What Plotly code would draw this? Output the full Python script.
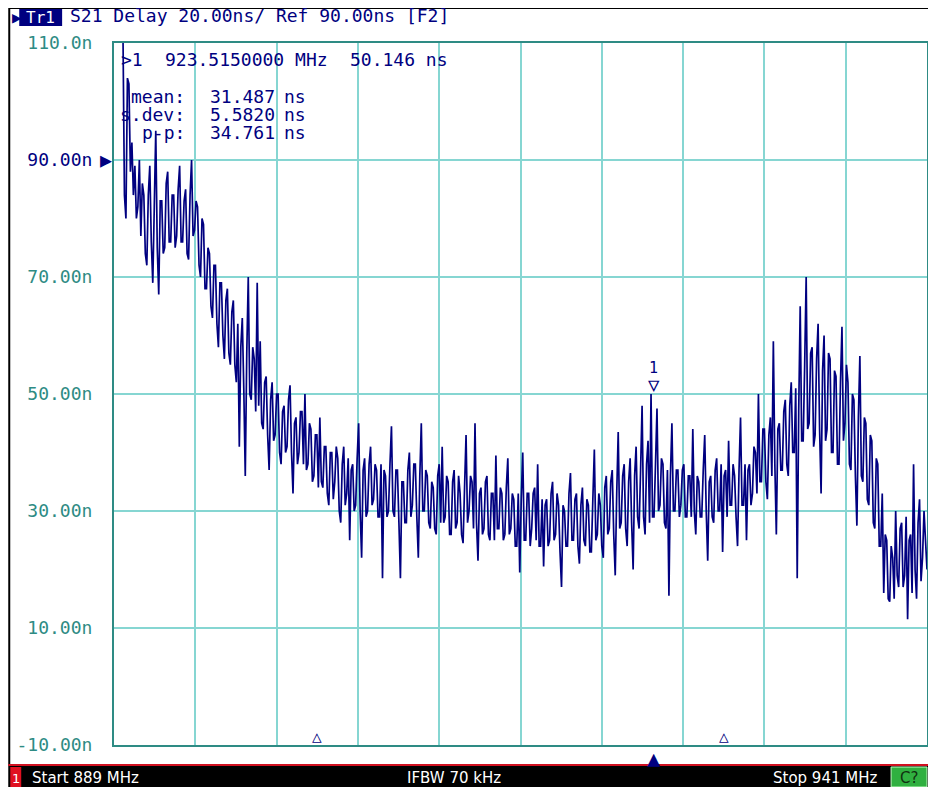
import numpy as np
import plotly.graph_objects as go

# ---- data ----
start_mhz = 889.0
stop_mhz = 941.0
delay_ns = [
    125, 119, 116, 126, 130, 113, 112, 84, 80, 104, 103, 88, 93, 84, 89, 80, 82, 90, 77, 86,
    84, 74, 72, 84, 89, 76, 69, 82, 95, 75, 67, 83, 83, 74, 75, 86, 88, 76, 76, 84,
    84, 75, 77, 85, 89, 76, 76, 83, 85, 74, 73, 84, 90, 77, 78, 83, 82, 72, 70, 80,
    79, 68, 68, 75, 74, 65, 63, 72, 72, 62, 58, 69, 69, 60, 56, 66, 68, 57, 55, 64,
    66, 55, 52, 62, 41, 58, 63, 51, 36, 57, 70, 50, 49, 58, 56, 47, 69, 48, 59, 45,
    44, 52, 53, 43, 37, 49, 52, 42, 43, 50, 50, 40, 38, 47, 48, 40, 41, 49, 51.5, 40,
    33, 45, 46, 38, 40, 47, 47, 38, 50, 37, 38, 45, 44, 35, 36, 43, 43, 34, 46, 35,
    34, 41, 41, 33, 31, 40, 40, 32, 35, 41, 39, 30, 28, 38, 41, 31, 33, 39, 25, 37,
    38, 30, 31, 39, 45, 30, 22, 37, 39, 29, 30, 38, 41, 31, 32, 38, 37, 29, 29, 38,
    18.5, 37, 36, 29, 30, 38, 44.5, 30, 29, 37, 37, 28, 18.5, 35, 35, 28, 28, 37, 40, 29,
    31, 38, 38, 29, 22, 36, 45, 30, 30, 37, 36, 28, 27, 35, 34, 27, 26, 36, 38, 28,
    41, 28, 29, 36, 35, 26, 26, 35, 37, 27, 28, 36, 33, 26, 24.5, 34, 43, 28, 30, 36,
    35, 27, 45, 28, 21.5, 33, 34, 26, 27, 35, 36, 26, 25, 33, 33, 25, 39.5, 27, 27, 34,
    33, 25, 26, 34, 39, 26, 27, 33, 32, 24, 24, 33, 19.5, 32, 40, 25, 25, 33, 33, 24,
    27, 33, 34, 25, 38, 24, 24, 32, 20.5, 31, 32, 24, 25, 33, 35, 25, 26, 33, 31, 23,
    17, 31, 30, 24, 24, 33, 36.5, 25, 25, 32, 33, 24, 21, 31, 34, 25, 24, 32, 31, 23,
    23, 32, 40.5, 25, 26, 33, 31, 24, 22, 34, 36, 26, 27, 35, 37, 26, 19, 33, 43.5, 27,
    28, 36, 38, 27, 24, 35, 39, 28, 20, 36, 41, 29, 27, 37, 48, 29, 26, 38, 42, 28,
    50, 29, 29, 38, 47.5, 30, 31, 39, 38, 28, 27, 37, 15.5, 36, 45, 30, 30, 37, 37, 29,
    31, 37, 38, 29, 29, 36, 36, 29, 44, 30, 26, 36, 35, 29, 29, 37, 43, 30, 21.5, 35,
    36, 29, 28, 37, 39, 30, 30, 38, 23, 36, 37, 29, 42, 31, 31, 38, 36, 29, 24, 37,
    46, 31, 31, 38, 25, 37, 38, 31, 33, 41, 40, 33, 50, 35, 35, 44, 44, 35, 32, 43,
    46, 36, 59, 38, 26, 44, 45, 37, 37, 47, 49, 38, 36, 48, 52, 40, 40, 51, 18.5, 47,
    65, 42, 42, 55, 70, 44, 45, 57, 58, 41, 43, 56, 62, 44, 33, 54, 60, 42, 44, 57,
    56, 40, 40, 54, 53, 38, 38, 52, 61.5, 42, 45, 55, 52, 38, 37, 50, 49, 36, 27.5, 46,
    56.5, 36, 35, 46, 45, 32, 31, 43, 42, 28, 27, 39, 38, 24, 24, 33, 16, 26, 25, 15,
    14.5, 24, 22, 15, 30, 19, 17, 27, 28, 17, 19, 29, 11.5, 25, 26, 16, 38, 20, 15, 28,
    32, 18, 22, 30, 24, 20,
]
freq_mhz = np.linspace(start_mhz, stop_mhz, len(delay_ns))

y_ticks = [110, 90, 70, 50, 30, 10, -10]
y_tick_text = ["110.0n", '<span style="color:#000080">90.00n</span>', "70.00n",
               "50.00n", "30.00n", "10.00n", "-10.00n"]

marker_freq = 923.515
marker_val = 50.146
stim_marks = [902.0, 928.0]

title_text = "S21 Delay 20.00ns/ Ref 90.00ns [F2]"
marker_line = [">1", "923.5150000 MHz", "50.146 ns"]
stat_names = ["mean:", "s.dev:", "p-p:"]
stat_vals = ["31.487", "5.5820", "34.761"]

# ---- geometry (page pixels; page body has an 8px margin) ----
OFF = 8
W, H = 936 - OFF, 787 - OFF
L, R, T, B = 114, 929, 43, 745   # plot area in page pixels
def px(x):
    return (x - L) / (R - L)
def py(y):
    return (B - y) / (B - T)

NAVY = "#000080"
TEAL = "#2e8b84"
GRID = "#86d6d2"
MONO = "DejaVu Sans Mono"
FS = 18

fig = go.Figure()
fig.add_trace(go.Scatter(x=freq_mhz, y=delay_ns, mode="lines",
                         line=dict(color=NAVY, width=1.7), hoverinfo="skip"))

fig.update_layout(
    width=W, height=H,
    margin=dict(l=L - OFF, r=936 - R, t=T - OFF, b=787 - B),
    paper_bgcolor="white", plot_bgcolor="white",
    showlegend=False,
    xaxis=dict(range=[start_mhz, stop_mhz], dtick=5.2, tick0=start_mhz,
               showticklabels=False, showgrid=True, gridcolor=GRID, gridwidth=2,
               zeroline=False, showline=True, linecolor=TEAL, linewidth=2, mirror=True,
               ticks=""),
    yaxis=dict(range=[-10, 110], tickvals=y_ticks, ticktext=y_tick_text,
               showgrid=True, gridcolor=GRID, gridwidth=2, zeroline=False,
               showline=True, linecolor=TEAL, linewidth=2, mirror=True,
               ticks="", ticklabelstandoff=16,
               tickfont=dict(family=MONO, size=FS, color=TEAL)),
)

shapes = []
shapes.append(dict(type="line", xref="paper", yref="paper",
                   x0=px(9), x1=px(9), y0=py(8), y1=py(764), line=dict(color="black", width=2)))
shapes.append(dict(type="line", xref="paper", yref="paper",
                   x0=px(9), x1=px(936), y0=py(8), y1=py(8), line=dict(color="black", width=2)))
# status bar
shapes.append(dict(type="rect", xref="paper", yref="paper",
                   x0=px(8), x1=px(936), y0=py(764), y1=py(787),
                   fillcolor="black", line=dict(width=0)))
shapes.append(dict(type="line", xref="paper", yref="paper",
                   x0=px(8), x1=px(936), y0=py(765), y1=py(765), line=dict(color="#d01020", width=2)))
shapes.append(dict(type="rect", xref="paper", yref="paper",
                   x0=px(10), x1=px(21), y0=py(767), y1=py(787),
                   fillcolor="#e01020", line=dict(width=0)))
shapes.append(dict(type="rect", xref="paper", yref="paper",
                   x0=px(893), x1=px(929), y0=py(767), y1=py(787),
                   fillcolor="#30b040", line=dict(color="#c0ffc0", width=1)))
# Tr1 box
shapes.append(dict(type="rect", xref="paper", yref="paper",
                   x0=px(19), x1=px(62), y0=py(9), y1=py(26),
                   fillcolor=NAVY, line=dict(width=0)))
fig.update_layout(shapes=shapes)

ann = []
def text(x, y, s, size=FS, color=NAVY, xanchor="left", family=MONO, yanchor="middle"):
    ann.append(dict(xref="paper", yref="paper", x=px(x), y=py(y), text=s, showarrow=False,
                    xanchor=xanchor, yanchor=yanchor, font=dict(family=family, size=size, color=color)))

# header
text(10, 17, "▶", size=16)
text(40, 17, "Tr1", size=16, color="white", xanchor="center")
text(68, 16, title_text)
# marker readout
text(119, 60, marker_line[0])
text(163, 60, marker_line[1])
text(349, 60, marker_line[2])
for i, (n, v) in enumerate(zip(stat_names, stat_vals)):
    yy = 97 + i * 18
    text(187, yy, n, xanchor="right")
    text(208, yy, v)
    text(282, yy, "ns")
# reference-level triangles
text(114, 160, "▶", size=20, xanchor="right")
text(929, 160, "◀", size=20, xanchor="left")
text(929, 571, "1", size=13, xanchor="left")

# status bar text
text(30, 778, "Start 889 MHz", size=15, color="white", family="DejaVu Sans")
text(455, 778, "IFBW 70 kHz", size=15, color="white", family="DejaVu Sans", xanchor="center")
text(881, 778, "Stop 941 MHz", size=15, color="white", family="DejaVu Sans", xanchor="right")
text(15.5, 778, "1", size=13, color="white", family="DejaVu Sans", xanchor="center")
text(911, 778, "C?", size=15, color="#103010", family="DejaVu Sans", xanchor="center")

# marker on trace
ann.append(dict(xref="x", yref="y", x=marker_freq, y=marker_val, text="▽", showarrow=False,
                xanchor="center", yanchor="bottom", yshift=-4,
                font=dict(family=MONO, size=19, color=NAVY)))
ann.append(dict(xref="x", yref="y", x=marker_freq, y=marker_val, text="1", showarrow=False,
                xanchor="center", yanchor="bottom", yshift=14,
                font=dict(family=MONO, size=15, color=NAVY)))
# stimulus indicators at bottom
for f in stim_marks:
    ann.append(dict(xref="x", yref="paper", x=f, y=0, text="△", showarrow=False,
                    xanchor="center", yanchor="bottom", yshift=-3,
                    font=dict(family=MONO, size=16, color=NAVY)))
ann.append(dict(xref="x", yref="paper", x=marker_freq, y=0, text="▲", showarrow=False,
                xanchor="center", yanchor="top", yshift=1,
                font=dict(family=MONO, size=22, color=NAVY)))
fig.update_layout(annotations=ann)

fig.write_html("out.html")
